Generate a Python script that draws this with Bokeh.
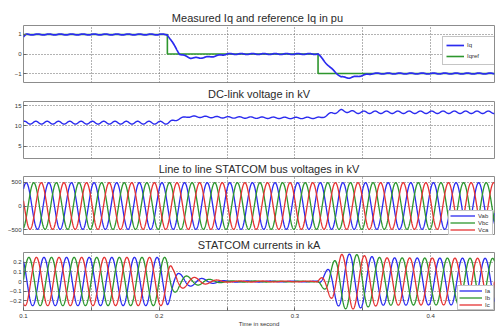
import numpy as np
from bokeh.plotting import figure
from bokeh.layouts import column
from bokeh.models import Range1d, FixedTicker
from bokeh.embed import file_html
from bokeh.resources import INLINE

# ---------------- data ----------------
t_start, t_end = 0.1, 0.447
f_grid = 60.0            # Hz, fundamental
f_ripple = 120.0         # Hz, 2nd-harmonic ripple

x_ticks = [0.1, 0.15, 0.2, 0.25, 0.3, 0.35, 0.4, 0.45]
x_tick_labels = {0.1: "0.1", 0.15: "", 0.2: "0.2", 0.25: "", 0.3: "0.3", 0.35: "", 0.4: "0.4", 0.45: ""}

# Panel 1: measured Iq and reference Iq (pu)
iq_t = [0.1, 0.102, 0.206, 0.215, 0.223, 0.23, 0.24, 0.25, 0.317, 0.326, 0.334, 0.34, 0.348, 0.357, 0.447]
iq_v = [0.88, 1.0, 1.0, 0.0, -0.2, -0.2, -0.12, 0.0, 0.0, -0.7, -1.18, -1.22, -1.12, -1.0, -1.0]
iq_ripple = 0.025
iqref_t = [0.1, 0.206, 0.206, 0.317, 0.317, 0.447]
iqref_v = [1, 1, 0, 0, -1, -1]

# Panel 2: DC-link voltage (kV)
vdc_t = [0.1, 0.207, 0.214, 0.221, 0.25, 0.3, 0.319, 0.327, 0.334, 0.345, 0.447]
vdc_v = [10.8, 10.8, 11.7, 12.3, 12.1, 11.95, 12.0, 13.1, 13.75, 13.35, 13.35]
vdc_rip_t = [0.1, 0.206, 0.216, 0.317, 0.33, 0.447]
vdc_rip_a = [0.35, 0.35, 0.18, 0.18, 0.3, 0.3]

# Panel 3: line-to-line voltages (kV)
vll_amp = 490.0
vll_phase0 = 0.82

# Panel 4: STATCOM currents (kA), amplitude envelope
i_env_t = [0.1, 0.206, 0.21, 0.215, 0.222, 0.235, 0.25, 0.317, 0.322, 0.328, 0.334, 0.342, 0.352, 0.365, 0.447]
i_env_a = [0.25, 0.25, 0.13, 0.08, 0.05, 0.025, 0.006, 0.004, 0.09, 0.2, 0.28, 0.285, 0.265, 0.245, 0.24]
i_phase0 = 2.17
i_flip_t = 0.317

BLUE = "#2b2bef"
GREEN = "#2d962d"
RED = "#e53232"

# ---------------- derived series ----------------
t = np.linspace(t_start, t_end, 3000)
w = 2 * np.pi * f_grid
wr = 2 * np.pi * f_ripple

iq = np.interp(t, iq_t, iq_v) + iq_ripple * np.sin(wr * (t - t_start))
vdc = np.interp(t, vdc_t, vdc_v) + np.interp(t, vdc_rip_t, vdc_rip_a) * np.sin(wr * (t - t_start) + 1.0)

th_v = w * (t - t_start) + vll_phase0
vab = vll_amp * np.sin(th_v)
vbc = vll_amp * np.sin(th_v - 2 * np.pi / 3)
vca = vll_amp * np.sin(th_v + 2 * np.pi / 3)

env = np.interp(t, i_env_t, i_env_a)
th_i = w * (t - t_start) + i_phase0 + np.where(t >= i_flip_t, np.pi, 0.0)
ia = env * np.sin(th_i)
ib = env * np.sin(th_i - 2 * np.pi / 3)
ic = env * np.sin(th_i + 2 * np.pi / 3)

FONT = "Liberation Sans"


def make_fig(height, ylo, yhi, yticks, title, top, bottom, show_x=False):
    p = figure(width=495, height=height, x_range=Range1d(t_start, t_end),
               y_range=Range1d(ylo, yhi), output_backend="svg", toolbar_location=None,
               tools="", min_border_left=23, min_border_right=1,
               min_border_top=top, min_border_bottom=bottom)
    p.title.text = title
    p.title.align = "center"
    p.title.text_font = FONT
    p.title.text_font_size = "11px"
    p.title.text_font_style = "normal"
    p.title.text_color = "#2a2a2a"
    p.title.standoff = 3
    p.outline_line_color = "#8c8c8c"
    p.background_fill_color = "white"
    p.border_fill_color = "white"

    p.yaxis.ticker = FixedTicker(ticks=yticks)
    p.yaxis.axis_line_color = None
    p.yaxis.major_tick_in = 3
    p.yaxis.major_tick_out = 0
    p.yaxis.major_tick_line_color = "#666666"
    p.yaxis.minor_tick_line_color = None
    p.yaxis.major_label_text_font = FONT
    p.yaxis.major_label_text_font_size = "6px"
    p.yaxis.major_label_text_color = "#333333"
    p.yaxis.major_label_standoff = 2

    p.xaxis.ticker = FixedTicker(ticks=x_ticks)
    p.xgrid.ticker = FixedTicker(ticks=x_ticks)
    p.ygrid.ticker = FixedTicker(ticks=yticks)
    for g in (p.xgrid, p.ygrid):
        g.grid_line_color = "#666666"
        g.grid_line_dash = "1 2"
        g.grid_line_width = 1
    if show_x:
        p.xaxis.axis_line_color = None
        p.xaxis.major_tick_in = 3
        p.xaxis.major_tick_out = 0
        p.xaxis.major_tick_line_color = "#666666"
        p.xaxis.minor_tick_line_color = None
        p.xaxis.major_label_overrides = x_tick_labels
        p.xaxis.major_label_text_font = FONT
        p.xaxis.major_label_text_font_size = "6px"
        p.xaxis.major_label_text_color = "#333333"
        p.xaxis.major_label_standoff = 3
        p.xaxis.axis_label = "Time in second"
        p.xaxis.axis_label_text_font = FONT
        p.xaxis.axis_label_text_font_size = "6px"
        p.xaxis.axis_label_text_font_style = "normal"
        p.xaxis.axis_label_text_color = "#333333"
        p.xaxis.axis_label_standoff = 0
    else:
        p.xaxis.visible = False
    return p


def style_legend(p, x, y, glyph_w, item_h, label_w, pad, spacing):
    lg = p.legend[0]
    lg.location = (x, y)
    lg.label_text_font = FONT
    lg.label_text_font_size = "6px"
    lg.label_text_color = "#333333"
    lg.glyph_width = glyph_w
    lg.glyph_height = item_h
    lg.label_height = item_h
    lg.label_width = label_w
    lg.label_standoff = 3
    lg.padding = pad
    lg.spacing = spacing
    lg.margin = 0
    lg.border_line_color = "#8c8c8c"
    lg.background_fill_color = "white"
    lg.background_fill_alpha = 1.0


# Panel 1
p1 = make_fig(84, -1.46, 1.46, [-1, 0, 1], "Measured Iq  and reference Iq in pu", 25, 2)
p1.line(iqref_t, iqref_v, color=GREEN, line_width=1.6, legend_label="Iqref")
p1.line(t, iq, color=BLUE, line_width=1.7, legend_label="Iq")
p1.legend[0].items = list(reversed(p1.legend[0].items))
style_legend(p1, 419, 17, 18, 10, 25, 3, 1)

# Panel 2
p2 = make_fig(75, 2, 16, [5, 10, 15], "DC-link voltage in kV", 16, 1)
p2.line(t, vdc, color=BLUE, line_width=1.4)

# Panel 3
p3 = make_fig(76, -620, 620, [-500, 0, 500], "Line to line STATCOM bus voltages in kV", 16, 0)
p3.line(t, vab, color=BLUE, line_width=1.3, legend_label="Vab")
p3.line(t, vbc, color=GREEN, line_width=1.3, legend_label="Vbc")
p3.line(t, vca, color=RED, line_width=1.3, legend_label="Vca")
style_legend(p3, 425, 0, 25, 7, 13, 1, 0)

# Panel 4
p4 = make_fig(94, -0.3, 0.3, [-0.2, -0.1, 0, 0.1, 0.2], "STATCOM currents in kA", 16, 14, show_x=True)
p4.line(t, ia, color=BLUE, line_width=1.3, legend_label="Ia")
p4.line(t, ib, color=GREEN, line_width=1.3, legend_label="Ib")
p4.line(t, ic, color=RED, line_width=1.3, legend_label="Ic")
style_legend(p4, 434, 0, 23, 7, 7, 1, 0)

layout = column(p1, p2, p3, p4, spacing=0)
open("out.html", "w").write(file_html(layout, INLINE))
